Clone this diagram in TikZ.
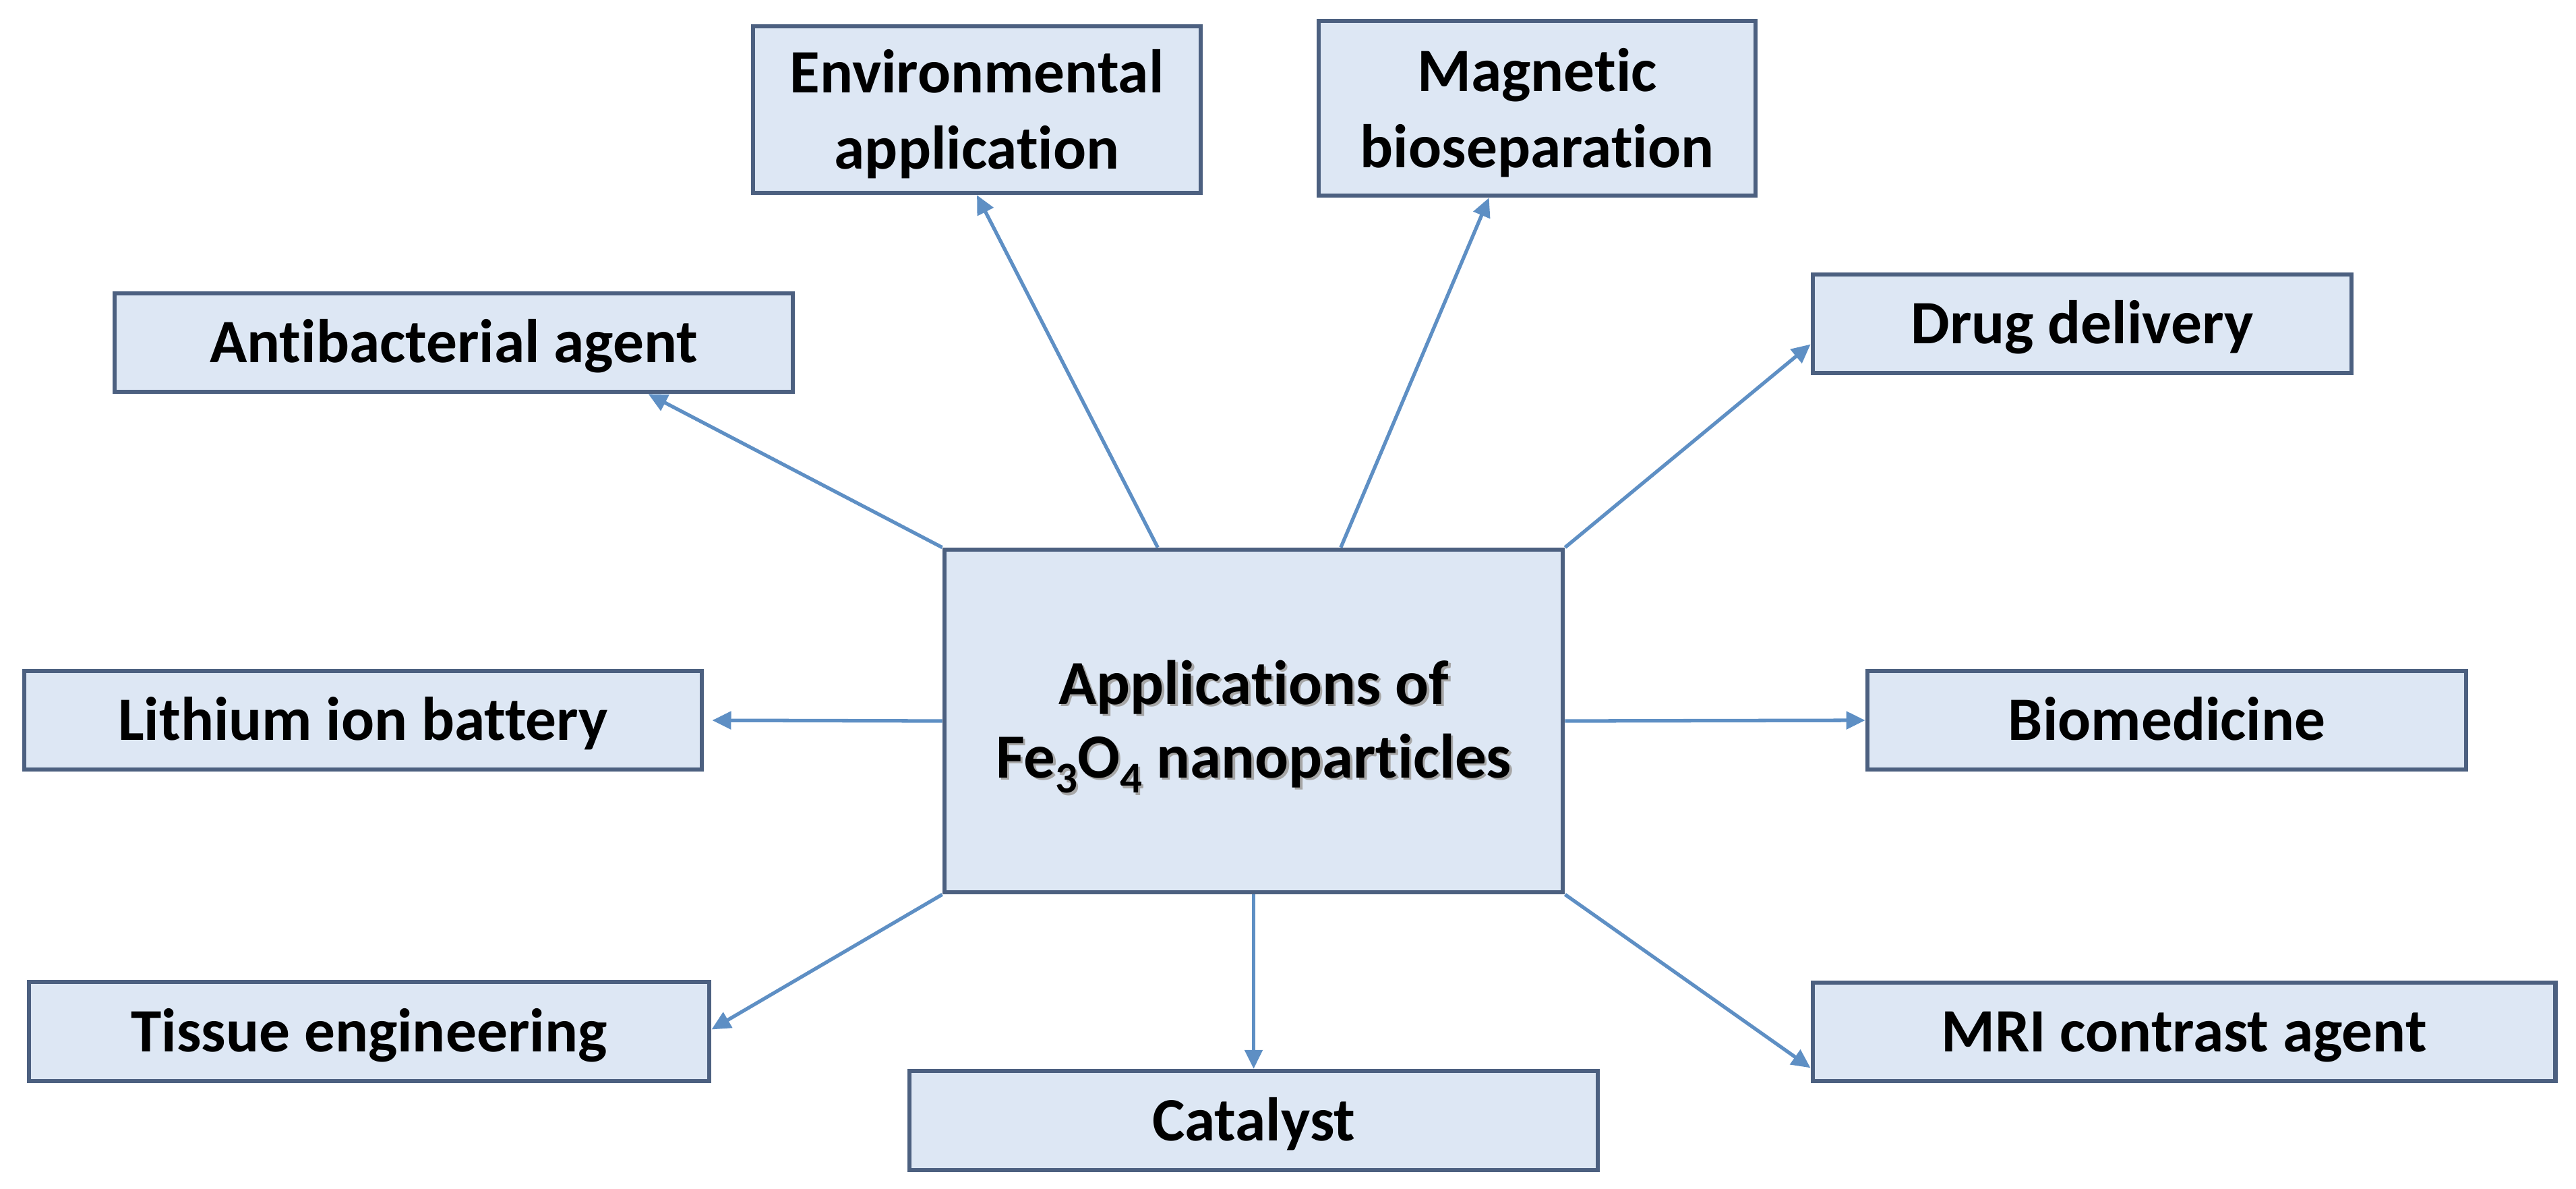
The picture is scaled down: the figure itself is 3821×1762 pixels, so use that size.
\documentclass[tikz,border=0pt]{standalone}
\usepackage{fontspec}
\setmainfont{Carlito}[Ligatures=NoCommon]
\usetikzlibrary{calc,arrows.meta}
\definecolor{boxfill}{HTML}{DDE7F4}
\definecolor{boxline}{HTML}{4C6080}
\definecolor{arrcol}{HTML}{5E8FC4}
\newcommand\fesub[1]{\raisebox{-6.5pt}{\fontsize{18.5}{18.5}\selectfont #1}}
\tikzset{
  box/.style={draw=boxline, line width=1.8pt, fill=boxfill, align=center, inner sep=0pt,
    font=\fontsize{26}{32}\selectfont\bfseries},
  onebox/.style={box, text height=24pt, text depth=7pt},
  twobox/.style={box, text height=56.8pt, text depth=7pt},
  ctxt/.style={font=\fontsize{26.5}{31}\selectfont\bfseries, align=center, inner sep=0pt, text height=54.8pt, text depth=7pt},
  arr/.style={draw=arrcol, line width=1.5pt, -{Triangle[length=0.28cm,width=0.26cm]}},
}
\begin{document}
\begin{tikzpicture}[x=0.01cm,y=-0.01cm]
\useasboundingbox (0,0) rectangle (3821,1762);
% central
\node[box, minimum width=9.17cm, minimum height=5.08cm] (c) at (1859.5,1069) {};
\node[ctxt, text=black!35] (cshadow) at (1863,1072.5) {Applications of\\Fe\fesub{3}O\fesub{4} nanoparticles};
\node[ctxt] (ctext) at (1859.5,1069) {Applications of\\Fe\fesub{3}O\fesub{4} nanoparticles};
% satellites
\node[twobox, minimum width=6.64cm, minimum height=2.47cm] (env) at (1449,162.5) {Environmental\\application};
\node[twobox, minimum width=6.48cm, minimum height=2.59cm] (mag) at (2280,160.5) {Magnetic\\bioseparation};
\node[onebox, minimum width=10.06cm, minimum height=1.46cm] (anti) at (673,508) {Antibacterial agent};
\node[onebox, minimum width=7.99cm, minimum height=1.46cm] (drug) at (3088.5,480) {Drug delivery};
\node[onebox, minimum width=10.05cm, minimum height=1.46cm] (lith) at (538.5,1068) {Lithium ion battery};
\node[onebox, minimum width=8.88cm, minimum height=1.46cm] (bio) at (3214,1068) {Biomedicine};
\node[onebox, minimum width=10.09cm, minimum height=1.47cm] (tissue) at (547.5,1529.5) {Tissue engineering};
\node[onebox, minimum width=10.21cm, minimum height=1.47cm] (cat) at (1859.5,1661.5) {Catalyst};
\node[onebox, minimum width=11.01cm, minimum height=1.46cm] (mri) at (3239.5,1530) {MRI contrast agent};
% connectors
\draw[arr] (c.north west) -- ($(anti.south west)!0.785!(anti.south east)$);
\draw[arr] ($(c.north west)!0.346!(c.north east)$) -- (env.south);
\draw[arr] ($(c.north west)!0.640!(c.north east)$) -- ($(mag.south west)!0.391!(mag.south east)$);
\draw[arr] (c.north east) -- ($(drug.north west)!0.70!(drug.south west)$);
\draw[arr, shorten >=0.12cm] (c.west) -- (lith.east);
\draw[arr] (c.east) -- (bio.west);
\draw[arr] (c.south west) -- ($(tissue.north east)!0.48!(tissue.south east)$);
\draw[arr] (c.south) -- (cat.north);
\draw[arr] (c.south east) -- ($(mri.north west)!0.85!(mri.south west)$);
\end{tikzpicture}
\end{document}
